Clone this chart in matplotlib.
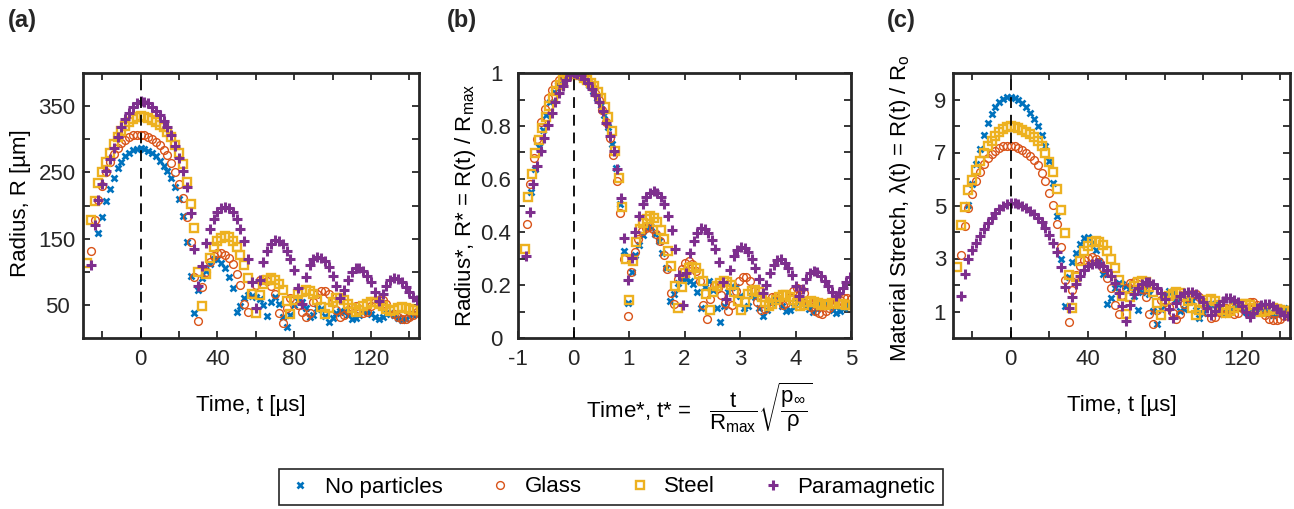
import numpy as np
import matplotlib
matplotlib.use("Agg")
import matplotlib.pyplot as plt

plt.rcParams["font.family"] = ["Liberation Sans", "DejaVu Sans"]
plt.rcParams["mathtext.fontset"] = "custom"
plt.rcParams["mathtext.rm"] = "Liberation Sans"
plt.rcParams["mathtext.it"] = "Liberation Sans:italic"
plt.rcParams["mathtext.default"] = "regular"
plt.rcParams["axes.unicode_minus"] = False

# camera frames, time in microseconds (t = 0 at maximum radius)
time_us = list(range(-28, 161, 2))

# bubble radius R [um]; None = no frame
R_none = [None, None, None, 158, 183, 207, 225, 241, 256, 266, 274, 280, 284, 286, 287,
          285, 283, 279, 274, 267, 260, 252, 241, 228, 210, 184, 145, 94, 38, 72,
          90, 101, 112, 119, 120, 113, 105, 92, 76, 40, 48, 60, 65, 64, 62,
          59, 50, 33, 55, 62, 52, 32, 17, 35, 50, 56, 55, 46, 32, 35,
          45, 44, 33, 24, 30, 38, 41, 40, 35, 29, 30, 34, 39, 39, 36,
          31, 28, 31, 36, 38, 35, 30, 27, 29, 33, 36, 35, None, None, None,
          None, None, None, None, None]
R_glass = [None, 132, 178, 208, 230, 250, 265, 278, 287, 294, 299, 303, 306, 307, 307,
           306, 304, 300, 296, 291, 284, 276, 264, 250, 232, 212, 182, 145, 92, 26,
           77, 100, 115, 124, 128, 129, 126, 121, 112, 96, 80, 52, 39, 68, 80,
           87, 89, 86, 78, 66, 38, 22, 45, 60, 58, 50, 40, 31, 38, 55,
           66, 71, 71, 66, 55, 42, 32, 34, 42, 47, 48, 44, 38, 40, 48,
           55, 58, 57, 52, 44, 36, 31, 29, 28, 31, 35, 39, 42, 44, 46,
           46, 45, None, None, None]
R_steel = [113, 178, 207, 234, 250, 266, 280, 293, 303, 312, 320, 326, 331, 334, 335,
           334, 332, 329, 326, 322, 318, 311, 303, 292, 279, 262, 236, 202, 166, 100,
           48, 97, 121, 138, 146, 151, 154, 152, 147, 137, 125, 110, 91, 66, 38,
           65, 82, 88, 90, 88, 81, 72, 56, 36, 58, 66, 70, 72, 71, 67,
           58, 47, 36, 45, 55, 60, 61, 58, 52, 45, 40, 43, 48, 52, 54,
           54, 52, 48, 44, 41, 42, 45, 47, 46, 44, 42, 42, 43, 44, 44,
           43, 43, 42, 42, 42]
R_para = [None, 110, 170, 208, 232, 252, 270, 287, 303, 318, 330, 340, 348, 354, 357,
          356, 354, 349, 343, 336, 328, 318, 306, 290, 272, 252, 228, 188, 135, 78,
          108, 143, 165, 180, 190, 196, 198, 196, 190, 180, 165, 146, 120, 85, 45,
          88, 115, 131, 142, 148, 147, 142, 132, 120, 102, 76, 52, 92, 110, 119,
          122, 121, 116, 107, 94, 79, 60, 72, 88, 99, 105, 106, 101, 94, 85,
          70, 56, 66, 79, 87, 90, 89, 84, 77, 70, 62, 57, 61, 68, 76,
          82, None, None, None, None]

labels = ["No particles", "Glass", "Steel", "Paramagnetic"]
# time scale R_max*sqrt(rho/p_inf) [us] for panel (b)
tc_us = [28.7, 30.8, 31.8, 30.5]
# initial radius R_o [um] for panel (c)
R0_um = [31.5, 42.3, 41.9, 70.0]

colors = ["#0072BD", "#D95319", "#EDB120", "#7E2F8E"]
styles = [dict(marker="x", ms=4.6, mew=1.9),
          dict(marker="o", ms=5.6, mew=1.0, mfc="none"),
          dict(marker="s", ms=5.4, mew=1.7, mfc="none"),
          dict(marker="+", ms=7.0, mew=2.2)]

t = np.array(time_us, dtype=float)
radii = [np.array(r, dtype=float) for r in (R_none, R_glass, R_steel, R_para)]

W, H = 1294, 509
fig = plt.figure(figsize=(W / 100, H / 100), dpi=100)
ink = "#262626"


def make_axes(left, right):
    ax = fig.add_axes([left / W, 1 - 338 / H, (right - left) / W, 265 / H])
    for sp in ax.spines.values():
        sp.set_linewidth(2.0)
        sp.set_color(ink)
    ax.tick_params(direction="in", top=True, right=True, length=5, width=1.3,
                   labelsize=16, colors=ink)
    ax.tick_params(axis="x", pad=8)
    return ax


def scatter_all(ax, xs, ys):
    hs = []
    for x, y, c, st, lab in zip(xs, ys, colors, styles, labels):
        h, = ax.plot(x, y, ls="none", color=c, label=lab, **st)
        hs.append(h)
    ax.axvline(0, color="k", lw=1.3, ls=(0, (6, 3.8)), zorder=5)
    return hs


# (a) radius vs time
axa = make_axes(83, 419)
handles = scatter_all(axa, [t] * 4, radii)
axa.set_xlim(-30, 145)
axa.set_ylim(0, 400)
axa.set_xticks(range(-20, 141, 20))
axa.set_xticklabels(["" if v % 40 else str(v) for v in range(-20, 141, 20)])
axa.set_yticks(range(50, 351, 50))
axa.set_yticklabels(["" if v % 100 == 0 else str(v) for v in range(50, 351, 50)])
axa.tick_params(axis="y", pad=18.7)
plt.setp(axa.get_yticklabels(), ha="center")
axa.set_xlabel("Time, t [µs]", fontsize=16, va="top")
axa.xaxis.set_label_coords(0.5, -0.215)
axa.set_ylabel("Radius, R [µm]", fontsize=16, va="center")
axa.yaxis.set_label_coords(-0.185, 0.51)

# (b) normalised radius vs normalised time
axb = make_axes(518, 851)
scatter_all(axb, [t / tc for tc in tc_us], [r / np.nanmax(r) for r in radii])
axb.set_xlim(-1, 5)
axb.set_ylim(0, 1)
axb.set_xticks(range(-1, 6))
axb.set_yticks(np.arange(0, 1.01, 0.1))
axb.set_yticklabels(["0", "", "0.2", "", "0.4", "", "0.6", "", "0.8", "", "1"])
axb.tick_params(axis="y", pad=15.8)
plt.setp(axb.get_yticklabels(), ha="center")
axb.set_xlabel(r"Time*, t* =   $\dfrac{t}{R_{max}}\sqrt{\dfrac{p_{\infty}}{\rho}}$",
               fontsize=16, va="top")
axb.xaxis.set_label_coords(0.545, -0.16)
axb.set_ylabel(r"Radius*, R* = R(t) / R$_{max}$", fontsize=16, va="center")
axb.yaxis.set_label_coords(-0.159, 0.5)

# (c) material stretch vs time
axc = make_axes(953, 1290)
scatter_all(axc, [t] * 4, [r / r0 for r, r0 in zip(radii, R0_um)])
axc.set_xlim(-30, 145)
axc.set_ylim(0, 10)
axc.set_xticks(range(-20, 141, 20))
axc.set_xticklabels(["" if v % 40 else str(v) for v in range(-20, 141, 20)])
axc.set_yticks(range(1, 10))
axc.set_yticklabels([str(v) if v % 2 else "" for v in range(1, 10)])
axc.tick_params(axis="y", pad=9.4)
plt.setp(axc.get_yticklabels(), ha="center")
axc.set_xlabel("Time, t [µs]", fontsize=16, va="top")
axc.xaxis.set_label_coords(0.5, -0.215)
axc.set_ylabel(r"Material Stretch, $\lambda$(t) = R(t) / R$_{o}$", fontsize=16, va="center")
axc.yaxis.set_label_coords(-0.157, 0.49)

for x, s in [(8, "(a)"), (447, "(b)"), (887, "(c)")]:
    fig.text(x / W, 1 - 21 / H, s, fontsize=17, fontweight="bold", va="center", color=ink)

leg = fig.legend(handles, labels, loc="center", bbox_to_anchor=(611 / W, 1 - 487 / H),
                 ncol=4, fontsize=16, frameon=True, fancybox=False, edgecolor=ink,
                 framealpha=1, columnspacing=2.0, handletextpad=0.5, handlelength=1.2,
                 borderpad=0.35)
leg.get_frame().set_linewidth(1.2)

fig.savefig("out.png", dpi=100)
